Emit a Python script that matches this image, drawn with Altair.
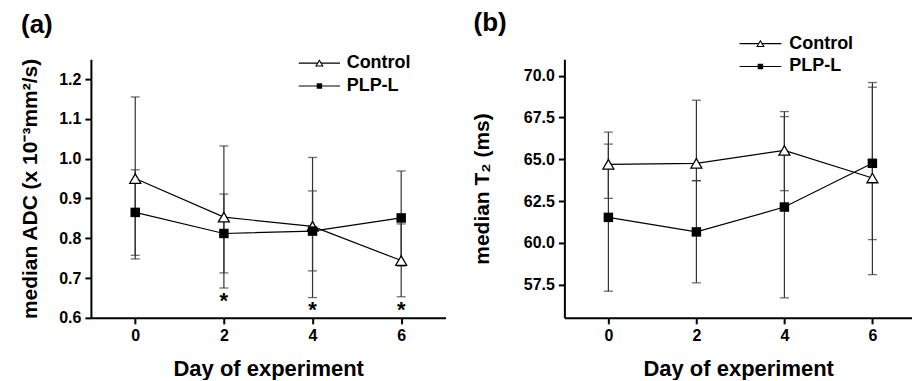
import altair as alt
import pandas as pd

# ---------------- data ----------------
days = [0, 2, 4, 6]
series_names = ["Control", "PLP-L"]

# (a) median ADC (x 10^-3 mm^2/s)
adc_control = [0.950, 0.853, 0.830, 0.744]
adc_control_lo = [0.748, 0.713, 0.651, 0.653]
adc_control_hi = [1.155, 1.032, 1.003, 0.836]
adc_plp = [0.865, 0.812, 0.818, 0.851]
adc_plp_lo = [0.757, 0.675, 0.718, 0.730]
adc_plp_hi = [0.972, 0.911, 0.919, 0.969]

# (b) median T2 (ms)
t2_control = [64.70, 64.76, 65.53, 63.88]
t2_control_lo = [62.66, 63.72, 63.12, 58.09]
t2_control_hi = [66.63, 68.54, 67.86, 69.60]
t2_plp = [61.52, 60.65, 62.14, 64.76]
t2_plp_lo = [57.10, 57.60, 56.70, 60.19]
t2_plp_hi = [65.91, 63.72, 67.56, 69.32]

# significance markers in (a)
sig_days = [2, 4, 6]
sig_adc = [0.647, 0.625, 0.625]

adc_ticks = [0.6, 0.7, 0.8, 0.9, 1.0, 1.1, 1.2]
t2_ticks = [57.5, 60.0, 62.5, 65.0, 67.5, 70.0]

FONT = "Liberation Sans"


def make_df(ctrl, ctrl_lo, ctrl_hi, plp, plp_lo, plp_hi):
    rows = []
    for name, v, lo, hi in [(series_names[0], ctrl, ctrl_lo, ctrl_hi),
                            (series_names[1], plp, plp_lo, plp_hi)]:
        for d, a, b, c in zip(days, v, lo, hi):
            rows.append({"series": name, "day": d, "val": a, "lo": b, "hi": c})
    return pd.DataFrame(rows)


def panel(df, xdom, width, ydom, yticks, ytitle, label, legend_pos, sig=None,
          ytp=12, tdx=-70, toff=12):
    xscale = alt.Scale(domain=xdom, nice=False, zero=False)
    yscale = alt.Scale(domain=ydom, nice=False, zero=False)
    xaxis = alt.Axis(values=days, title="Day of experiment", grid=False,
                     domainWidth=2, domainColor="black", tickWidth=2, tickColor="black",
                     tickSize=6, labelFontSize=16, labelFontWeight="bold", labelFont=FONT,
                     labelColor="black", labelPadding=4, titleFont=FONT, titleFontSize=22,
                     titleFontWeight="bold", titleColor="black", titlePadding=15)
    yaxis = alt.Axis(values=yticks, format=".1f", title=ytitle, grid=False,
                     domainWidth=2, domainColor="black", tickWidth=2, tickColor="black",
                     tickSize=6, labelFontSize=16, labelFontWeight="bold", labelFont=FONT,
                     labelColor="black", labelPadding=4, titleFont=FONT, titleFontSize=21,
                     titleFontWeight="bold", titleColor="black", titlePadding=ytp)
    X = lambda f="day": alt.X(f"{f}:Q", scale=xscale, axis=xaxis)
    Y = lambda f="val": alt.Y(f"{f}:Q", scale=yscale, axis=yaxis)

    base = alt.Chart(df)
    stems = base.mark_rule(color="#333", strokeWidth=1.2).encode(
        x=X(), y=Y("lo"), y2="hi:Q")
    caps = base.transform_fold(["lo", "hi"], as_=["k", "cap"]).mark_tick(
        orient="horizontal", size=9, thickness=1.3, color="#333").encode(
        x=X(), y=Y("cap"))
    lines = base.mark_line(color="black", strokeWidth=1.2).encode(
        x=X(), y=Y(), detail="series:N")
    tri = base.transform_filter(alt.datum.series == series_names[0]).mark_point(
        shape="triangle-up", filled=True, fill="white", stroke="black",
        strokeWidth=1.3, size=120, opacity=1).encode(x=X(), y=Y())
    sq = base.transform_filter(alt.datum.series == series_names[1]).mark_point(
        shape="square", filled=True, color="black", size=90, opacity=1).encode(
        x=X(), y=Y())
    layers = [stems, caps, lines, tri, sq]

    # legend drawn in data space
    lx1, lx2, lxt, ly = legend_pos
    leg = pd.DataFrame({"label": series_names, "x1": [lx1, lx1], "x2": [lx2, lx2],
                        "xm": [(lx1 + lx2) / 2] * 2, "xt": [lxt, lxt], "y": ly})
    lb = alt.Chart(leg)
    layers.append(lb.mark_rule(color="black", strokeWidth=1.2).encode(
        x=X("x1"), x2="x2:Q", y=Y("y")))
    layers.append(lb.transform_filter(alt.datum.label == series_names[0]).mark_point(
        shape="triangle-up", filled=True, fill="white", stroke="black",
        strokeWidth=1.1, size=45, opacity=1).encode(x=X("xm"), y=Y("y")))
    layers.append(lb.transform_filter(alt.datum.label == series_names[1]).mark_point(
        shape="square", filled=True, color="black", size=30, opacity=1).encode(
        x=X("xm"), y=Y("y")))
    layers.append(lb.mark_text(align="left", baseline="middle", font=FONT, fontSize=18,
                               fontWeight="bold", color="black").encode(
        x=X("xt"), y=Y("y"), text="label:N"))

    if sig is not None:
        sd = pd.DataFrame({"day": sig[0], "val": sig[1], "t": ["*"] * len(sig[0])})
        layers.append(alt.Chart(sd).mark_text(font=FONT, fontSize=22, fontWeight="bold",
                                              baseline="alphabetic", dy=9, color="black")
                      .encode(x=X(), y=Y(), text="t:N"))

    return alt.layer(*layers).properties(
        width=width, height=259,
        title=alt.TitleParams(label, anchor="start", frame="group", font=FONT,
                              fontSize=26, fontWeight="bold", color="black",
                              dx=tdx, offset=toff))


df_a = make_df(adc_control, adc_control_lo, adc_control_hi, adc_plp, adc_plp_lo, adc_plp_hi)
df_b = make_df(t2_control, t2_control_lo, t2_control_hi, t2_plp, t2_plp_lo, t2_plp_hi)

pa = panel(df_a, [-1, 7], 355, [0.6, 1.25], adc_ticks,
           "median ADC (x 10\u207b\u00b3mm\u00b2/s)", "(a)",
           (3.69, 4.62, 4.77, [1.240, 1.1825]), sig=(sig_days, sig_adc),
           ytp=18, tdx=-70, toff=16)
pb = panel(df_b, [-1, 6.9], 348, [55.5, 71.0], t2_ticks, "median T\u2082 (ms)", "(b)",
           (2.98, 3.93, 4.11, [71.93, 70.56]), ytp=31, tdx=-91, toff=-1)

chart = alt.hconcat(pa, pb, spacing=119, bounds="flush").properties(
    padding={"left": 11, "top": 1, "right": 0, "bottom": 0}
).configure_view(stroke=None)

chart.save("out.html", embed_options={"renderer": "svg", "actions": False})
